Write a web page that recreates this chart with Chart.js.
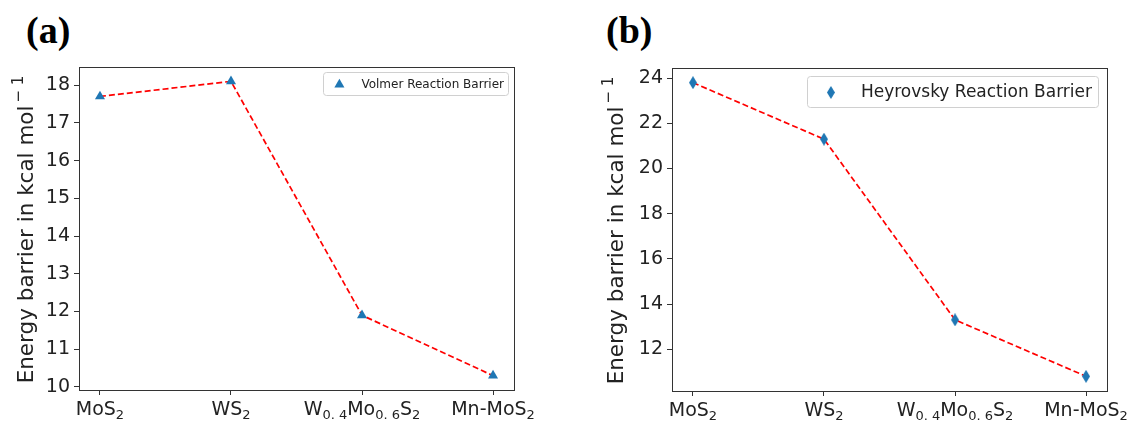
<!DOCTYPE html>
<html>
<head>
<meta charset="utf-8">
<script src="https://cdn.jsdelivr.net/npm/chart.js@4.4.0/dist/chart.umd.min.js"></script>
<style>
  body { margin: 0; background: #fff; width: 1131px; height: 421px; position: relative; overflow: hidden; }
  .panel { position: absolute; top: 0; height: 421px; }
  .tag { position: absolute; font: bold 38px "Liberation Serif", serif; line-height: 1; color: #000; }
</style>
</head>
<body>
<div class="tag" style="left:26px;top:11px">(a)</div>
<div class="tag" style="left:606px;top:11px">(b)</div>
<div class="panel" style="left:0;width:560px"><canvas id="chartA"></canvas></div>
<div class="panel" style="left:560px;width:571px"><canvas id="chartB"></canvas></div>
<script>
// --- data ---
// subscripts written as _{...}
const materials = ['MoS_{2}', 'WS_{2}', 'W_{0.4}Mo_{0.6}S_{2}', 'Mn-MoS_{2}'];
const volmerBarrier = [17.7, 18.1, 11.9, 10.3];
const heyrovskyBarrier = [23.8, 21.3, 13.3, 10.8];
const volmerTicks = [10, 11, 12, 13, 14, 15, 16, 17, 18];
const heyrovskyTicks = [12, 14, 16, 18, 20, 22, 24];

const BLUE = '#1f77b4';
const FONT = '"DejaVu Sans", sans-serif';
const TICK_SIZE = 19;

// split 'MoS_{2}' into [{t:'MoS'}, {t:'2', sub:true}]
function parseLabel(s) {
  const parts = [];
  const re = /_\{([^}]*)\}|[^_]+/g;
  let m;
  while ((m = re.exec(s))) {
    if (m[1] !== undefined) parts.push({ t: m[1].replace('.', '. '), sub: true });
    else parts.push({ t: m[0], sub: false });
  }
  return parts;
}
const plainLabel = s => s.replace(/_\{([^}]*)\}/g, '$1');

// thin diamond marker like matplotlib 'd'
function thinDiamond(w, h, color) {
  const c = document.createElement('canvas');
  c.width = w; c.height = h;
  const g = c.getContext('2d');
  g.fillStyle = color;
  g.beginPath();
  g.moveTo(w / 2, 0); g.lineTo(w, h / 2); g.lineTo(w / 2, h); g.lineTo(0, h / 2);
  g.closePath(); g.fill();
  return c;
}

function drawMarker(ctx, style, x, y, r) {
  if (style instanceof HTMLCanvasElement) {
    ctx.drawImage(style, x - style.width / 2, y - style.height / 2);
    return;
  }
  const h = r * 1.5;
  const w = r * 1.732;
  ctx.beginPath();
  ctx.moveTo(x, y - h * 2 / 3);
  ctx.lineTo(x + w / 2, y + h / 3);
  ctx.lineTo(x - w / 2, y + h / 3);
  ctx.closePath();
  ctx.fill();
}

// four-sided frame like matplotlib spines
const frame = {
  id: 'frame',
  afterDatasetsDraw(chart) {
    const { ctx, chartArea: a } = chart;
    ctx.save();
    ctx.strokeStyle = '#333';
    ctx.lineWidth = 1;
    ctx.strokeRect(Math.round(a.left) + 0.5, Math.round(a.top) + 0.5,
      Math.round(a.right - a.left), Math.round(a.bottom - a.top));
    ctx.restore();
  }
};

// category labels with real subscripts
const subLabels = {
  id: 'subLabels',
  afterDraw(chart) {
    const { ctx, chartArea: a } = chart;
    const xs = chart.scales.x;
    const big = TICK_SIZE + 'px ' + FONT;
    const small = Math.round(TICK_SIZE * 0.7) + 'px ' + FONT;
    const base = a.bottom + 25;
    ctx.save();
    ctx.fillStyle = '#222';
    ctx.textBaseline = 'alphabetic';
    materials.forEach((m, i) => {
      const parts = parseLabel(m);
      let total = 0;
      parts.forEach(p => { ctx.font = p.sub ? small : big; p.w = ctx.measureText(p.t).width; total += p.w; });
      let x = xs.getPixelForValue(i) - total / 2;
      parts.forEach(p => {
        ctx.font = p.sub ? small : big;
        ctx.fillText(p.t, x, p.sub ? base + 4 : base);
        x += p.w;
      });
    });
    ctx.restore();
  }
};

// y axis title with superscript unit
const yTitle = {
  id: 'yTitle',
  afterDraw(chart, args, o) {
    const { ctx, chartArea: a } = chart;
    const main = 'Energy barrier in kcal mol';
    const sup = '\u2212 1';
    ctx.save();
    ctx.font = o.size + 'px ' + FONT;
    const w1 = ctx.measureText(main).width;
    ctx.font = o.supSize + 'px ' + FONT;
    const w2 = ctx.measureText(sup).width;
    const total = w1 + 3 + w2;
    ctx.translate(o.x, (a.top + a.bottom) / 2 + 1);
    ctx.rotate(-Math.PI / 2);
    ctx.fillStyle = '#222';
    ctx.textBaseline = 'middle';
    ctx.textAlign = 'left';
    ctx.font = o.size + 'px ' + FONT;
    ctx.fillText(main, -total / 2, 0);
    ctx.font = o.supSize + 'px ' + FONT;
    ctx.fillText(sup, -total / 2 + w1 + 3, -8);
    ctx.restore();
  }
};

// legend box inside the axes, upper right
const boxLegend = {
  id: 'boxLegend',
  afterDraw(chart, args, o) {
    const { ctx, chartArea: a } = chart;
    const ds = chart.data.datasets[0];
    ctx.save();
    ctx.font = o.font;
    const tw = ctx.measureText(ds.label).width;
    const w = o.textX + tw + o.padRight;
    const right = a.right - o.inset;
    const top = a.top + o.insetTop;
    const left = right - w;
    ctx.fillStyle = 'rgba(255,255,255,0.8)';
    ctx.strokeStyle = '#d0d0d0';
    ctx.lineWidth = 1;
    ctx.beginPath();
    ctx.roundRect(Math.round(left) + 0.5, top + 0.5, Math.round(w), o.h, 3);
    ctx.fill(); ctx.stroke();
    ctx.fillStyle = ds.backgroundColor;
    drawMarker(ctx, ds.pointStyle, left + o.markerX, top + o.h / 2 + 1, ds.pointRadius);
    ctx.fillStyle = '#222';
    ctx.textBaseline = 'middle';
    ctx.fillText(ds.label, left + o.textX, top + o.h / 2 + 1);
    ctx.restore();
  }
};

function makeChart(id, values, yTicks, yMin, yMax, label, marker, radius, padding, yWidth, xHeight, titleX, legendOpts) {
  const pts = values.map((v, i) => ({ x: i, y: v }));
  return new Chart(document.getElementById(id), {
    type: 'scatter',
    data: {
      datasets: [
        {
          label: label,
          data: pts,
          pointStyle: marker,
          pointRadius: radius,
          backgroundColor: BLUE,
          borderColor: BLUE,
          borderWidth: 0
        },
        {
          type: 'line',
          label: 'trend',
          data: pts,
          borderColor: '#ff0000',
          borderWidth: 1.7,
          borderDash: [6, 3],
          pointRadius: 0,
          fill: false
        }
      ]
    },
    options: {
      responsive: true,
      maintainAspectRatio: false,
      animation: false,
      layout: { padding: padding },
      plugins: {
        legend: { display: false },
        tooltip: { enabled: false },
        boxLegend: legendOpts,
        yTitle: { x: titleX, size: 21.5, supSize: 15 }
      },
      scales: {
        x: {
          type: 'linear',
          min: -0.16,
          max: 3.16,
          border: { display: false },
          grid: { drawOnChartArea: false, tickLength: 5, color: '#333' },
          ticks: {
            display: false,
            callback: v => plainLabel(materials[v])
          },
          afterBuildTicks: s => { s.ticks = materials.map((m, i) => ({ value: i })); },
          afterFit: s => { s.height = xHeight; s.paddingLeft = 0; s.paddingRight = 0; }
        },
        y: {
          min: yMin,
          max: yMax,
          border: { display: false },
          grid: { drawOnChartArea: false, tickLength: 5, color: '#333' },
          ticks: {
            padding: 4,
            color: '#222',
            font: { family: FONT, size: TICK_SIZE }
          },
          afterBuildTicks: s => { s.ticks = yTicks.map(v => ({ value: v })); },
          afterFit: s => { s.width = yWidth; s.paddingTop = 0; s.paddingBottom = 0; },
          title: { display: false, text: 'Energy barrier in kcal mol\u207B\u00B9' }
        }
      }
    },
    plugins: [frame, subLabels, yTitle, boxLegend]
  });
}

makeChart('chartA', volmerBarrier, volmerTicks, 9.92, 18.48,
  'Volmer Reaction Barrier', 'triangle', 5.8,
  { left: 0, top: 67, right: 46, bottom: 0 }, 79, 31, 27,
  { font: '12px ' + FONT, inset: 6, insetTop: 5, h: 23, markerX: 16, textX: 38, padRight: 4 });

makeChart('chartB', heyrovskyBarrier, heyrovskyTicks, 10.15, 24.45,
  'Heyrovsky Reaction Barrier', thinDiamond(8, 13, BLUE), 6,
  { left: 0, top: 68, right: 24, bottom: 0 }, 112, 30, 57,
  { font: '17px ' + FONT, inset: 9, insetTop: 8, h: 31, markerX: 24, textX: 54, padRight: 6 });
</script>
</body>
</html>
